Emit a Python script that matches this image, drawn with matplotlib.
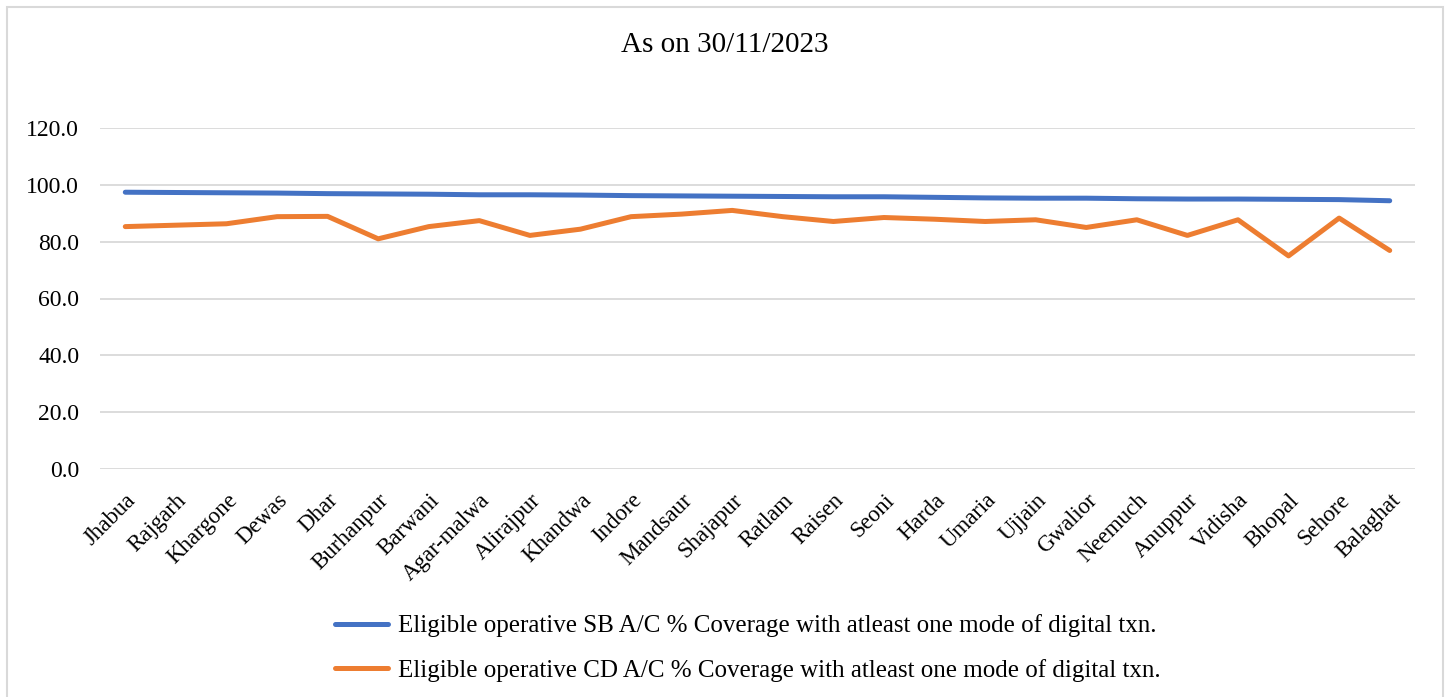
import matplotlib
matplotlib.use("Agg")
import matplotlib.pyplot as plt
from matplotlib.patches import Rectangle

plt.rcParams['font.family'] = ['Liberation Serif', 'DejaVu Serif']

districts = ["Jhabua", "Rajgarh", "Khargone", "Dewas", "Dhar", "Burhanpur", "Barwani",
             "Agar-malwa", "Alirajpur", "Khandwa", "Indore", "Mandsaur", "Shajapur",
             "Ratlam", "Raisen", "Seoni", "Harda", "Umaria", "Ujjain", "Gwalior",
             "Neemuch", "Anuppur", "Vidisha", "Bhopal", "Sehore", "Balaghat"]
sb_coverage = [97.4, 97.3, 97.2, 97.1, 96.9, 96.8, 96.7, 96.5, 96.5, 96.4, 96.2, 96.1, 96.0,
               95.9, 95.8, 95.8, 95.6, 95.4, 95.3, 95.3, 95.1, 95.0, 95.0, 94.9, 94.8, 94.4]
cd_coverage = [85.3, 85.8, 86.3, 88.8, 88.9, 81.0, 85.3, 87.4, 82.2, 84.4, 88.8, 89.7, 91.0,
               88.8, 87.1, 88.5, 87.9, 87.1, 87.7, 85.0, 87.7, 82.2, 87.7, 75.0, 88.3, 76.9]
y_ticks = [0, 20, 40, 60, 80, 100, 120]
title = "As on 30/11/2023"
label_sb = "Eligible operative SB A/C % Coverage with atleast one mode of digital txn."
label_cd = "Eligible operative CD A/C % Coverage with atleast one mode of digital txn."

W, H = 1452, 697
fig = plt.figure(figsize=(W / 100, H / 100), dpi=100)
ax = fig.add_axes([100 / W, 1 - 469 / H, (1415 - 100) / W, (469 - 128) / H])

x = list(range(len(districts)))
l1, = ax.plot(x, sb_coverage, color='#4472C4', lw=3.6, solid_capstyle='round', solid_joinstyle='round', label=label_sb)
l2, = ax.plot(x, cd_coverage, color='#ED7D31', lw=3.6, solid_capstyle='round', solid_joinstyle='round', label=label_cd)

ax.set_xlim(-0.5, len(districts) - 0.5)
ax.set_ylim(0, 120)
ax.set_yticks(y_ticks)
ax.set_yticklabels([f"{v:.1f}" for v in y_ticks], fontsize=17)
ax.set_xticks(x)
ax.set_xticklabels(districts, rotation=45, ha='right', rotation_mode='anchor', fontsize=16.5)
ax.tick_params(axis='both', length=0)
ax.tick_params(axis='y', pad=15)
ax.tick_params(axis='x', pad=15)
ax.grid(axis='y', color='#D9D9D9', lw=1.3)
ax.set_axisbelow(True)
for s in ax.spines.values():
    s.set_visible(False)

fig.text(725 / W, 1 - 45 / H, title, ha='center', va='center', fontsize=21)

leg = fig.legend(handles=[l1, l2], loc='center', bbox_to_anchor=(748 / W, 1 - 648 / H),
                 ncol=1, frameon=False, fontsize=18, handlelength=2.1, handletextpad=0.4,
                 labelspacing=0.85)

fig.patches.append(Rectangle((7 / W, -2 / H), (1443 - 7) / W, (H - 5) / H, transform=fig.transFigure,
                             fill=False, edgecolor='#D9D9D9', lw=1.5))

fig.savefig("out.png", dpi=100)
